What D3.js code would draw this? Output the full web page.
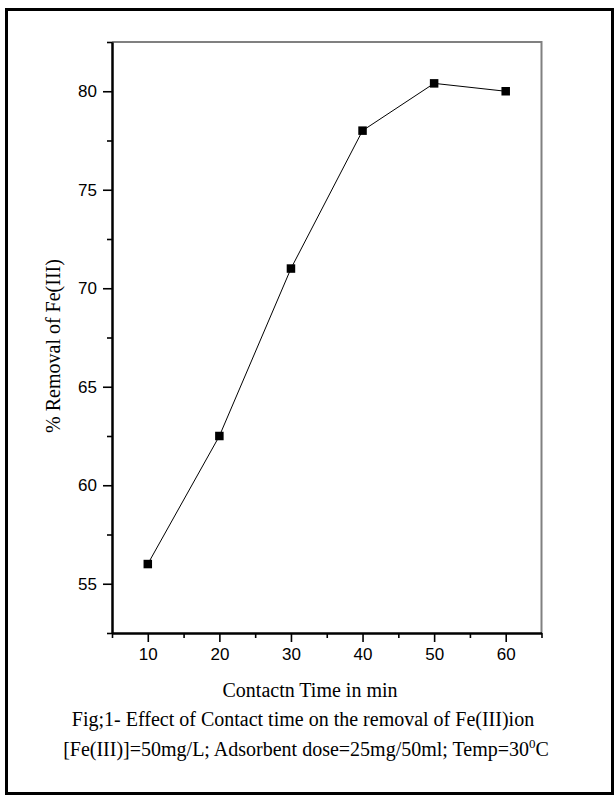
<!DOCTYPE html>
<html>
<head>
<meta charset="utf-8">
<script src="https://cdn.jsdelivr.net/npm/d3@7"></script>
<style>
  body { margin: 0; background: #fff; }
  svg { display: block; }
</style>
</head>
<body>
<div id="chart"></div>
<script>
// data
var times = [10, 20, 30, 40, 50, 60];
var removal = [56, 62.5, 71, 78, 80.4, 80];
var xMajor = [10, 20, 30, 40, 50, 60];
var xMinor = [5, 15, 25, 35, 45, 55, 65];
var yMajor = [55, 60, 65, 70, 75, 80];
var yMinor = [52.5, 57.5, 62.5, 67.5, 72.5, 77.5, 82.5];

var W = 616, H = 797;
var plot = {left: 112, right: 541.5, top: 42, bottom: 633};

var svg = d3.select("#chart")
  .append("svg")
    .attr("width", W)
    .attr("height", H);

// outer frame round the whole figure
svg.append("rect")
  .attr("x", 6.5)
  .attr("y", 9.5)
  .attr("width", 606)
  .attr("height", 784)
  .attr("fill", "none")
  .attr("stroke", "#000")
  .attr("stroke-width", 3);

var x = d3.scaleLinear()
  .domain([5, 65])
  .range([plot.left, plot.right]);

var y = d3.scaleLinear()
  .domain([52.5, 82.5])
  .range([plot.bottom, plot.top]);

// top and right frame lines (grey)
svg.append("path")
  .attr("d", "M" + plot.left + "," + plot.top + "H" + plot.right + "V" + plot.bottom)
  .attr("fill", "none")
  .attr("stroke", "#808080")
  .attr("stroke-width", 2);

// X axis
var gx = svg.append("g")
  .attr("transform", "translate(0," + plot.bottom + ")");
gx.append("g")
  .call(d3.axisBottom(x).tickValues(xMinor).tickSize(5).tickSizeOuter(0).tickFormat(""));
gx.append("g")
  .call(d3.axisBottom(x).tickValues(xMajor).tickSize(9).tickSizeOuter(0).tickPadding(6));

// Y axis
var gy = svg.append("g")
  .attr("transform", "translate(" + plot.left + ",0)");
gy.append("g")
  .call(d3.axisLeft(y).tickValues(yMinor).tickSize(5).tickSizeOuter(0).tickFormat(""));
gy.append("g")
  .call(d3.axisLeft(y).tickValues(yMajor).tickSize(9).tickSizeOuter(0).tickPadding(6));

svg.selectAll(".domain")
  .attr("stroke", "#000")
  .attr("stroke-width", 2);
svg.selectAll(".tick line")
  .attr("stroke", "#000")
  .attr("stroke-width", 1.6);
svg.selectAll(".tick text")
  .attr("fill", "#000")
  .style("font-family", "'Liberation Sans', Arial, sans-serif")
  .style("font-size", "17px");

// the line
var pts = times.map(function(t, i) { return {t: t, v: removal[i]}; });
svg.append("path")
  .datum(pts)
  .attr("fill", "none")
  .attr("stroke", "#000")
  .attr("stroke-width", 1)
  .attr("d", d3.line()
    .x(function(d) { return x(d.t); })
    .y(function(d) { return y(d.v); })
    );

// square markers
var s = 8.5;
svg.selectAll(".pt")
  .data(pts)
  .enter().append("rect")
    .attr("class", "pt")
    .attr("x", function(d) { return x(d.t) - s / 2; })
    .attr("y", function(d) { return y(d.v) - s / 2; })
    .attr("width", s)
    .attr("height", s)
    .attr("fill", "#000");

// axis titles and caption
var serif = "'Liberation Serif', 'Times New Roman', serif";

svg.append("text")
  .attr("transform", "translate(60,346) rotate(-90)")
  .attr("text-anchor", "middle")
  .style("font-family", serif)
  .style("font-size", "20px")
  .text("% Removal of Fe(III)");

svg.append("text")
  .attr("x", 310)
  .attr("y", 697)
  .attr("text-anchor", "middle")
  .style("font-family", serif)
  .style("font-size", "20px")
  .text("Contactn Time in min");

svg.append("text")
  .attr("x", 303)
  .attr("y", 726)
  .attr("text-anchor", "middle")
  .style("font-family", serif)
  .style("font-size", "20px")
  .text("Fig;1- Effect of Contact time on the removal of Fe(III)ion");

var cap = svg.append("text")
  .attr("x", 306)
  .attr("y", 756)
  .attr("text-anchor", "middle")
  .style("font-family", serif)
  .style("font-size", "20px");
cap.append("tspan").text("[Fe(III)]=50mg/L; Adsorbent dose=25mg/50ml; Temp=30");
cap.append("tspan").attr("dy", -8).style("font-size", "13px").text("0");
cap.append("tspan").attr("dy", 8).text("C");
</script>
</body>
</html>
